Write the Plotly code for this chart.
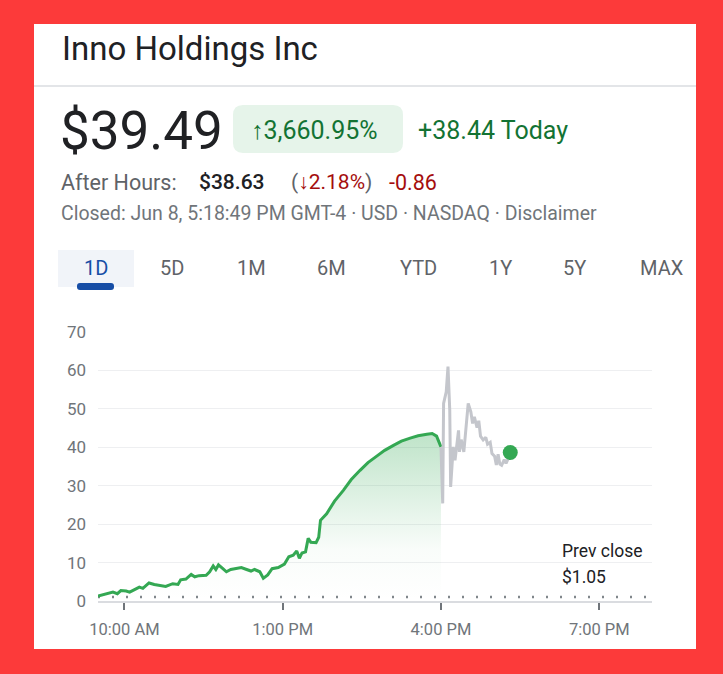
import plotly.graph_objects as go

# --- data ---
DAY = "2024-06-07"
PREV_CLOSE = 1.05
LAST_TIME = "17:18:49"
LAST_PRICE = 38.63

session_times = ["09:30", "09:39", "09:47", "09:52", "09:56", "10:02", "10:06", "10:11",
                 "10:17", "10:21", "10:28", "10:34", "10:40", "10:47", "10:55", "11:01",
                 "11:04", "11:10", "11:16", "11:20", "11:25", "11:33", "11:37", "11:41",
                 "11:44", "11:47", "11:52", "11:56", "12:01", "12:07", "12:13", "12:19",
                 "12:24", "12:28", "12:34", "12:38", "12:43", "12:48", "12:55", "13:02",
                 "13:07", "13:12", "13:16", "13:19", "13:22", "13:26", "13:29", "13:32",
                 "13:38", "13:41", "13:43", "13:50", "13:59", "14:09", "14:18", "14:28",
                 "14:37", "14:47", "14:56", "15:06", "15:15", "15:25", "15:34", "15:44",
                 "15:50", "15:55", "16:00"]
session_prices = [1.3, 1.9, 2.3, 1.9, 2.7, 2.6, 2.3, 2.9,
                  3.6, 3.3, 4.7, 4.3, 4.0, 3.8, 4.5, 4.3,
                  5.5, 5.7, 6.9, 6.3, 6.6, 6.7, 7.6, 9.1,
                  8.2, 9.4, 8.4, 7.6, 8.2, 8.4, 8.7, 8.2,
                  7.8, 8.2, 7.6, 5.9, 6.8, 8.4, 8.7, 9.6,
                  11.5, 11.9, 13.0, 11.1, 12.5, 12.8, 16.3, 15.3,
                  15.2, 16.6, 21.0, 22.7, 26.0, 28.8, 31.6, 34.0,
                  36.0, 37.7, 39.2, 40.5, 41.6, 42.4, 43.0, 43.4,
                  43.6, 42.9, 40.1]

after_times = ["16:00", "16:02", "16:03", "16:06", "16:08", "16:10", "16:11", "16:13",
               "16:14", "16:16", "16:18", "16:20", "16:21", "16:23", "16:26", "16:29",
               "16:31", "16:34", "16:36", "16:38", "16:41", "16:43", "16:45", "16:48",
               "16:51", "16:53", "16:56", "16:58", "17:01", "17:03", "17:05", "17:07",
               "17:09", "17:12", "17:14", "17:17"]
after_prices = [40.1, 25.4, 51.4, 54.4, 61.0, 49.7, 29.7, 35.8,
                40.1, 36.6, 40.5, 44.4, 38.8, 42.0, 38.8, 47.9,
                51.4, 49.2, 46.2, 47.9, 45.1, 46.9, 42.9, 41.9,
                42.6, 40.8, 41.3, 38.4, 37.7, 35.4, 38.2, 35.6,
                35.3, 36.8, 35.8, 37.3]

tick_times = ["10:00", "13:00", "16:00", "19:00"]
tick_labels = ["10:00 AM", "1:00 PM", "4:00 PM", "7:00 PM"]
tabs = ["1D", "5D", "1M", "6M", "YTD", "1Y", "5Y", "MAX"]
tab_centers = [96, 172, 251, 331, 418, 500, 574, 662]

# --- page geometry (pixels) ---
W, H = 723, 674
ML, MR, MT, MB = 98, 71, 332, 73
PW = W - ML - MR
PH = H - MT - MB
FONT = "Roboto"


def px(x):
    return (x - ML) / PW


def py(y):
    return (H - MB - y) / PH


def ts(t):
    return f"{DAY} {t}"


def rounded_path(x0, y0, x1, y1, r):
    pts = [("M", x0 + r, y0), ("L", x1 - r, y0), ("Q", x1, y0, x1, y0 + r),
           ("L", x1, y1 - r), ("Q", x1, y1, x1 - r, y1), ("L", x0 + r, y1),
           ("Q", x0, y1, x0, y1 - r), ("L", x0, y0 + r), ("Q", x0, y0, x0 + r, y0)]
    out = ""
    for p in pts:
        cmd, vals = p[0], p[1:]
        coords = []
        for i in range(0, len(vals), 2):
            coords.append(f"{px(vals[i]):.5f},{py(vals[i + 1]):.5f}")
        out += cmd + " ".join(coords) + " "
    return out + "Z"


def label(x, y, text, size, color, anchor="left", weight=400):
    return dict(x=px(x), y=py(y), xref="paper", yref="paper", text=text,
                showarrow=False, xanchor=anchor, yanchor="middle",
                font=dict(family=FONT, size=size, color=color, weight=weight))


fig = go.Figure()

fig.add_trace(go.Scatter(
    x=[ts(t) for t in session_times], y=session_prices, mode="lines",
    line=dict(color="#34a853", width=3), fill="tozeroy",
    fillgradient=dict(type="vertical", start=0, stop=44,
                      colorscale=[[0, "rgba(52,168,83,0)"], [0.3, "rgba(52,168,83,0.03)"],
                                  [1, "rgba(52,168,83,0.32)"]]),
    hoverinfo="skip"))
fig.add_trace(go.Scatter(
    x=[ts(t) for t in after_times], y=after_prices, mode="lines",
    line=dict(color="#c4c6cc", width=3), hoverinfo="skip"))
fig.add_trace(go.Scatter(
    x=[ts(LAST_TIME)], y=[LAST_PRICE], mode="markers",
    marker=dict(color="#34a853", size=15), hoverinfo="skip"))

shapes = [
    # card
    dict(type="rect", xref="paper", yref="paper", x0=px(34), x1=px(696), y0=py(24), y1=py(649),
         fillcolor="white", line=dict(width=0), layer="below"),
    # divider under title
    dict(type="line", xref="paper", yref="paper", x0=px(34), x1=px(696), y0=py(86), y1=py(86),
         line=dict(color="#dadce0", width=1.5)),
    # change pill
    dict(type="path", xref="paper", yref="paper", path=rounded_path(233, 105, 403, 153, 10),
         fillcolor="#e6f4ea", line=dict(width=0)),
    # selected tab
    dict(type="rect", xref="paper", yref="paper", x0=px(58), x1=px(134), y0=py(250), y1=py(287),
         fillcolor="#f1f4f9", line=dict(width=0)),
    dict(type="path", xref="paper", yref="paper", path=rounded_path(77, 283, 114, 290, 3),
         fillcolor="#174ea6", line=dict(width=0)),
    # previous close
    dict(type="line", xref="paper", yref="y", x0=0, x1=1, y0=PREV_CLOSE, y1=PREV_CLOSE,
         line=dict(color="#80868b", width=2.5, dash="2px,12px"), layer="below"),
]

annotations = [
    label(60, 48, "Inno Holdings Inc", 33, "#202124"),
    label(58, 131, "$39.49", 53, "#202124"),
    label(249, 130, "↑3,660.95%", 25, "#137333"),
    label(416, 130, "+38.44 Today", 25, "#137333"),
    label(59, 182, "After Hours:", 21.5, "#5f6368"),
    label(197, 182, "$38.63", 21, "#202124", weight=500),
    label(289, 182, "(<span style='color:#a50e0e'>↓2.18%</span>)", 21, "#5f6368"),
    label(387, 182, "-0.86", 21.5, "#a50e0e"),
    label(59, 213, "Closed: Jun 8, 5:18:49 PM GMT-4 · USD · NASDAQ · Disclaimer", 19.5, "#70757a"),
    label(560, 551, "Prev close", 17.5, "#202124"),
    label(560, 577, "$1.05", 17.5, "#202124"),
]
for name, cx in zip(tabs, tab_centers):
    color = "#174ea6" if name == "1D" else "#5f6368"
    annotations.append(label(cx, 268, name, 20, color, anchor="center"))

fig.update_layout(
    width=W, height=H,
    margin=dict(l=ML, r=MR, t=MT, b=MB),
    paper_bgcolor="#fc3a3a", plot_bgcolor="white",
    showlegend=False,
    shapes=shapes, annotations=annotations,
    xaxis=dict(type="date", range=[ts("09:30"), ts("20:00")],
               tickvals=[ts(t) for t in tick_times], ticktext=tick_labels,
               ticks="outside", ticklen=7, tickwidth=2, tickcolor="#70757a",
               ticklabelstandoff=5,
               tickfont=dict(family=FONT, size=16.5, color="#70757a"),
               showgrid=False, showline=True, linecolor="#dadce0", linewidth=1.5,
               zeroline=False, fixedrange=True),
    yaxis=dict(range=[0, 70], tickvals=[0, 10, 20, 30, 40, 50, 60, 70],
               tickfont=dict(family=FONT, size=17, color="#70757a"),
               ticklabelstandoff=11,
               gridcolor="#eeeff1", gridwidth=1, zeroline=False, fixedrange=True),
)

# drop the browser's default 8px body margin so the figure sits at the window origin
fig.write_html("out.html", config={"displayModeBar": False},
               post_script="document.body.style.margin='0';")
